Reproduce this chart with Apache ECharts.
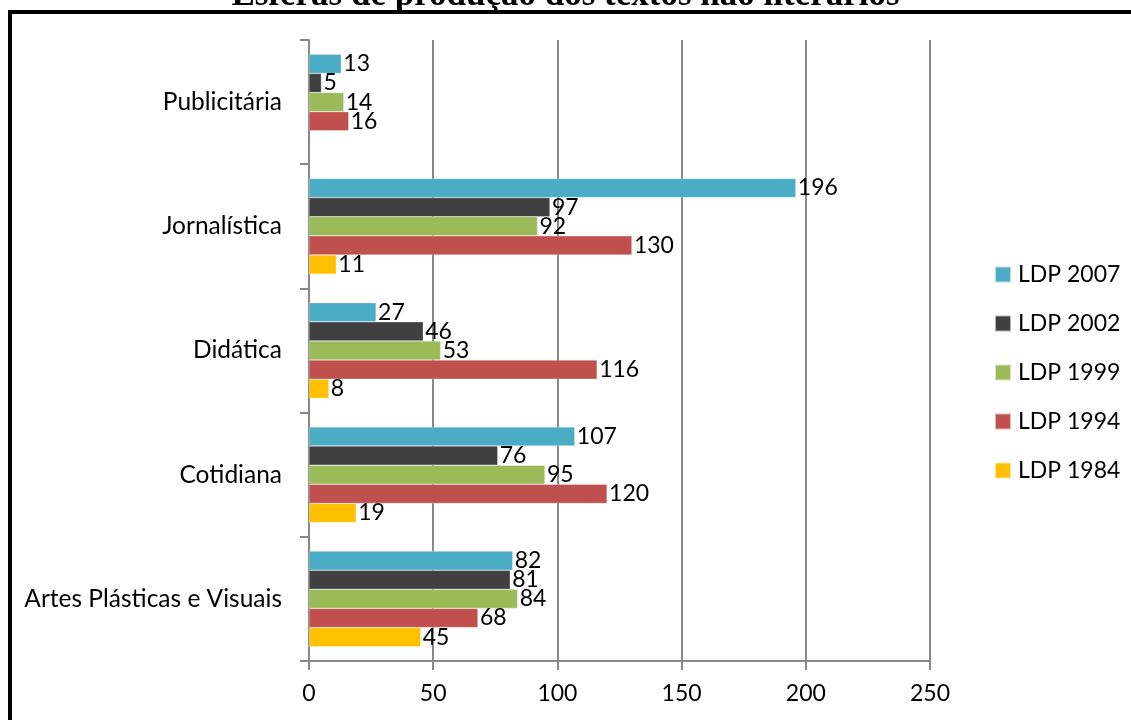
<!DOCTYPE html>
<html>
<head>
<meta charset="utf-8">
<script src="https://cdn.jsdelivr.net/npm/echarts@6/dist/echarts.min.js"></script>
<style>
  html, body { margin: 0; padding: 0; background: #fff; }
  #chart { width: 1131px; height: 720px; }
</style>
</head>
<body>
<div id="chart"></div>
<script>
// Categories, bottom to top on the vertical axis
const categories = ['Artes Plásticas e Visuais', 'Cotidiana', 'Didática', 'Jornalística', 'Publicitária'];

// Values per edition (same order as categories)
const ldp2007 = [82, 107, 27, 196, 13];
const ldp2002 = [81, 76, 46, 97, 5];
const ldp1999 = [84, 95, 53, 92, 14];
const ldp1994 = [68, 120, 116, 130, 16];
const ldp1984 = [45, 19, 8, 11, '-'];

const seriesNames = ['LDP 2007', 'LDP 2002', 'LDP 1999', 'LDP 1994', 'LDP 1984'];
const seriesData = [ldp2007, ldp2002, ldp1999, ldp1994, ldp1984];
const seriesColors = ['#4BACC6', '#404040', '#9BBB59', '#C0504D', '#FFC000'];

const xTicks = { min: 0, max: 250, interval: 50 };

const FONT = 'Lato, "Open Sans", sans-serif';
const GRID_COLOR = '#898989';

const chart = echarts.init(document.getElementById('chart'));

const series = seriesNames.map((name, i) => ({
  name: name,
  type: 'bar',
  data: seriesData[i],
  barGap: '0%',
  barCategoryGap: '23%',
  itemStyle: { color: seriesColors[i], borderColor: 'rgba(255,255,255,0.6)', borderWidth: 0.5 },
  label: {
    show: true,
    position: 'right',
    distance: 2,
    color: '#000',
    fontFamily: FONT,
    fontSize: 23
  }
}));

chart.setOption({
  animation: false,
  backgroundColor: '#fff',
  title: {
    text: 'Esferas de produção dos textos não literários',
    left: 'center',
    top: -22,
    padding: 0,
    textStyle: {
      fontFamily: '"Liberation Serif", "Times New Roman", serif',
      fontSize: 35,
      fontWeight: 'bold',
      color: '#000'
    }
  },
  graphic: [{
    type: 'rect',
    z: -1,
    shape: { x: 10, y: 12, width: 1300, height: 900 },
    style: { fill: 'none', stroke: '#000', lineWidth: 4 }
  }],
  legend: {
    orient: 'vertical',
    left: 989,
    top: 258,
    itemWidth: 16,
    itemHeight: 16,
    itemGap: 26,
    icon: 'rect',
    data: seriesNames,
    textStyle: { fontFamily: FONT, fontSize: 23, color: '#000', padding: [0, 0, 0, 2] }
  },
  grid: { left: 309, right: 201, top: 40, bottom: 59, containLabel: false },
  xAxis: {
    type: 'value',
    min: xTicks.min,
    max: xTicks.max,
    interval: xTicks.interval,
    axisLine: { show: true, lineStyle: { color: GRID_COLOR, width: 2 } },
    axisTick: { show: true, length: 9, lineStyle: { color: GRID_COLOR, width: 2 } },
    splitLine: { show: true, lineStyle: { color: GRID_COLOR, width: 2 } },
    axisLabel: { color: '#000', fontFamily: FONT, fontSize: 23, margin: 21 }
  },
  yAxis: {
    type: 'category',
    data: categories,
    axisLine: { show: true, lineStyle: { color: GRID_COLOR, width: 2 } },
    axisTick: { show: true, length: 9, lineStyle: { color: GRID_COLOR, width: 2 } },
    axisLabel: { color: '#000', fontFamily: FONT, fontSize: 24.5, margin: 27 }
  },
  series: series
});
</script>
</body>
</html>
